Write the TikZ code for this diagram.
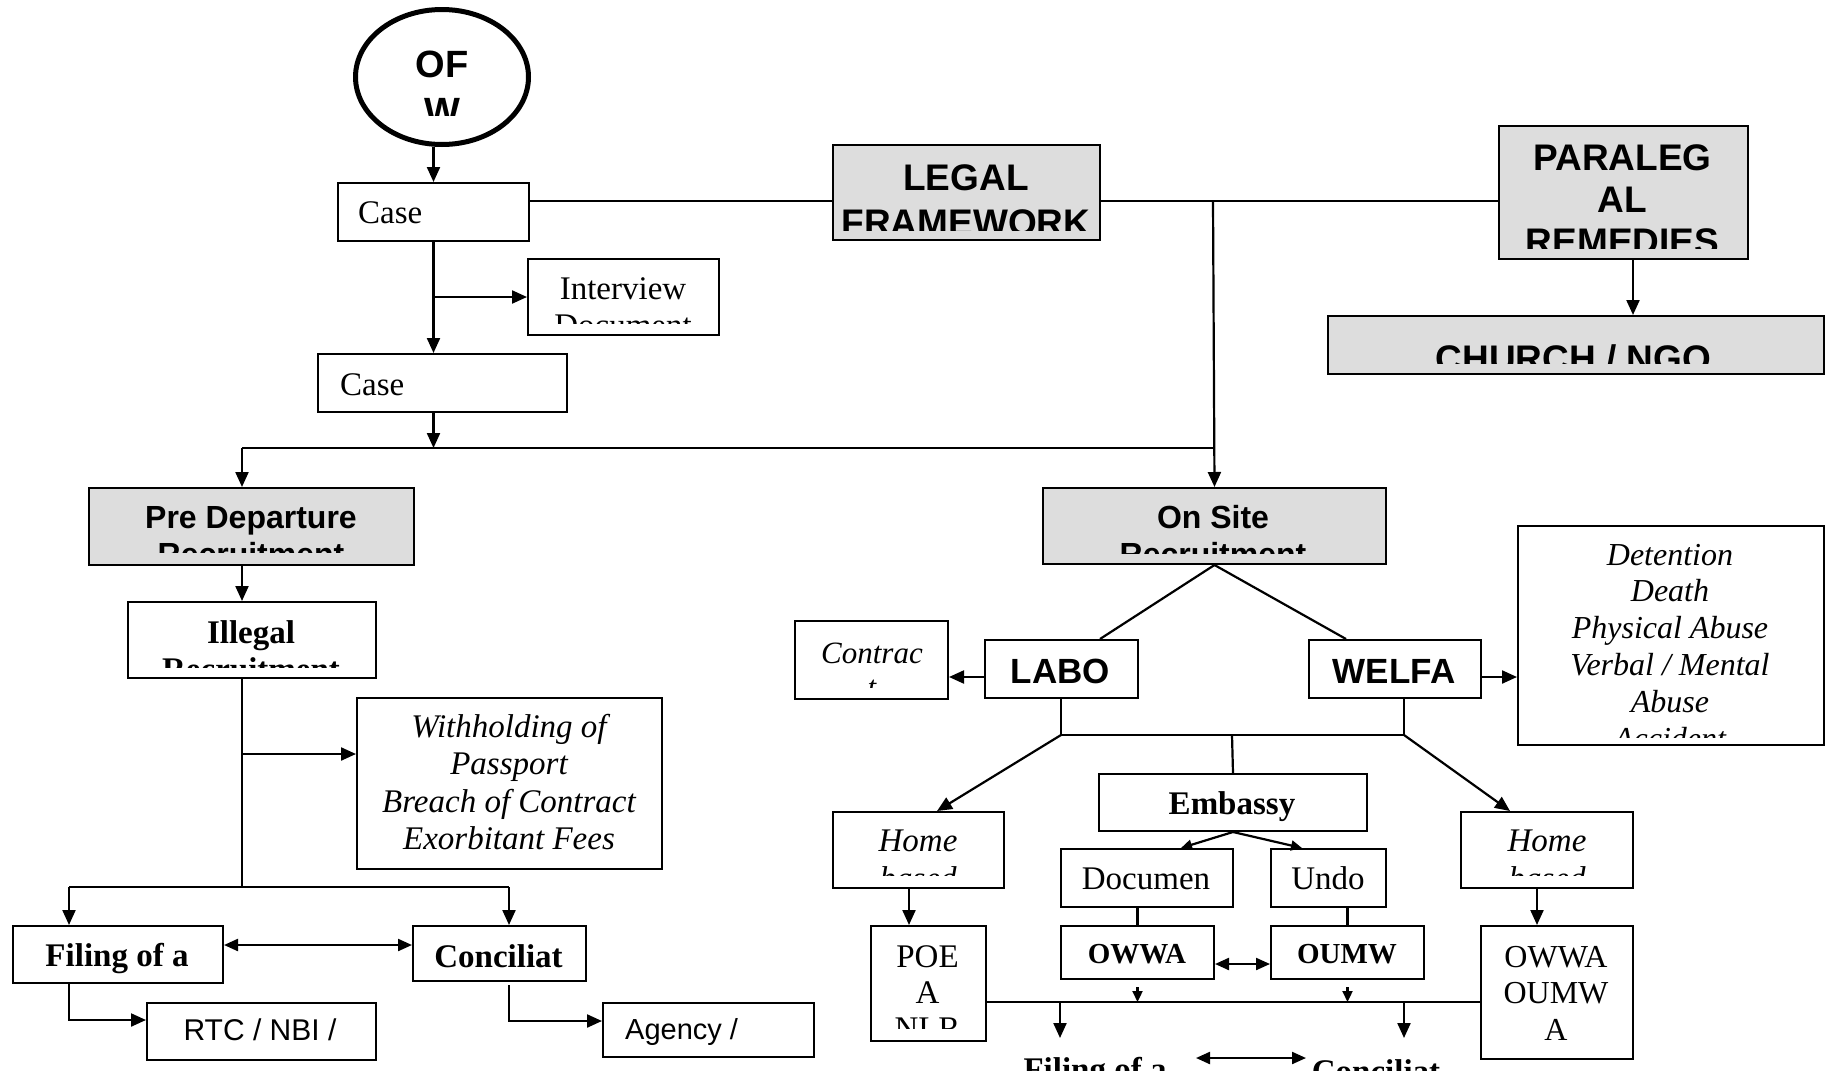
\documentclass[tikz,border=0pt]{standalone}
\usepackage{fontspec}
\setmainfont{Liberation Serif}
\newfontfamily\arialf{Liberation Sans}
\usetikzlibrary{shapes.geometric,arrows.meta}
\definecolor{boxgray}{RGB}{221,221,221}
\newcommand{\mkbox}[6]{%
  \pgfmathsetmacro{\mybw}{#4-#2}\pgfmathsetmacro{\mybh}{#5-#3}%
  \node[box,#6,minimum width=\mybw pt,minimum height=\mybh pt,anchor=north west] (#1) at (#2,#3) {};}
\newcommand{\tx}[6]{\begin{scope}\clip (#2) rectangle (#3); \node[#5] (#1) at (#4) {#6};\end{scope}}
\tikzset{
  box/.style={draw,line width=2pt,inner sep=0pt,fill=white},
  gbox/.style={fill=boxgray},
  txt/.style={inner sep=0pt,align=center,anchor=base},
  ltxt/.style={inner sep=0pt,anchor=base west},
  sr/.style={font=\fontsize{33}{37}\selectfont},
  sb/.style={font=\fontsize{33}{37}\selectfont\bfseries},
  si/.style={font=\fontsize{33}{37.5}\selectfont\itshape},
  ab/.style={font=\arialf\fontsize{37}{44}\selectfont\bfseries},
  line/.style={line width=2.2pt},
  arr/.style={line width=2.2pt,-{Triangle[length=15pt,width=13pt]}},
  sarr/.style={line width=2.2pt,-{Triangle[length=11pt,width=10pt]}},
  dbl/.style={line width=2.2pt,{Triangle[length=14pt,width=12pt]}-{Triangle[length=14pt,width=12pt]}}
}
\begin{document}
\begin{tikzpicture}[x=1pt,y=-1pt]
\useasboundingbox[fill=white] (0,0) rectangle (1829,1079);
% coordinates
\coordinate (lj) at (1213,201);
\coordinate (hl) at (242,448);
\coordinate (wb) at (242,754);
\coordinate (fl) at (69,887);
\coordinate (fr) at (509,887);
\coordinate (fa) at (300,945);
\coordinate (rb) at (69,1020);
\coordinate (ab) at (509,1021);
\coordinate (lc) at (985,677);
\coordinate (jl) at (1061,735);
\coordinate (jr) at (1404,735);
\coordinate (jm) at (1232,735);
\coordinate (oa) at (1240,964);
\coordinate (bl) at (985,1002);
\coordinate (d1) at (1060,1038);
\coordinate (d2) at (1404,1038);
\coordinate (hxl) at (909,0);
\coordinate (hxr) at (1537,0);
\coordinate (bd1) at (1196,1058);
\coordinate (bd2) at (1306,1058);
% shapes
\node[ellipse,draw,line width=5pt,minimum width=173pt,minimum height=135pt,inner sep=0pt] (ofw) at (442,77) {};
\mkbox{case1}{337}{182}{528}{240}{}
\mkbox{interview}{527}{258}{718}{334}{}
\mkbox{case2}{317}{353}{566}{411}{}
\mkbox{legal}{832}{144}{1099}{239}{gbox}
\mkbox{para}{1498}{125}{1747}{258}{gbox}
\mkbox{church}{1327}{315}{1823}{373}{gbox}
\mkbox{pre}{88}{487}{413}{564}{gbox}
\mkbox{onsite}{1042}{487}{1385}{563}{gbox}
\mkbox{illegal}{127}{601}{375}{677}{}
\mkbox{withh}{356}{697}{661}{868}{}
\mkbox{filing}{12}{925}{222}{982}{}
\mkbox{concil}{412}{925}{585}{980}{}
\mkbox{rtc}{146}{1002}{375}{1059}{}
\mkbox{agency}{602}{1002}{813}{1056}{}
\mkbox{contract}{794}{620}{947}{698}{}
\mkbox{labo}{984}{639}{1137}{697}{}
\mkbox{welfa}{1308}{639}{1480}{697}{}
\mkbox{detention}{1517}{525}{1823}{744}{}
\mkbox{homeL}{832}{811}{1003}{887}{}
\mkbox{embassy}{1098}{773}{1366}{830}{}
\mkbox{homeR}{1460}{811}{1632}{887}{}
\mkbox{documen}{1060}{848}{1232}{906}{}
\mkbox{undo}{1270}{848}{1385}{906}{}
\mkbox{owwa}{1060}{925}{1213}{978}{}
\mkbox{oumw}{1270}{925}{1423}{978}{}
\mkbox{poea}{870}{925}{985}{1040}{}
\mkbox{owwaR}{1480}{925}{1632}{1058}{}
% texts (anchor base = baseline of last line)
\tx{ofwt}{360,15}{525,115}{442,124}{txt,font=\arialf\fontsize{38}{47}\selectfont\bfseries}{OF\\W}
\node[ltxt,sr] (case1t) at (358,223) {Case};
\node[ltxt,sr] (case2t) at (340,395) {Case};
\tx{interviewt}{530,260}{716,323}{623,336}{txt,sr}{Interview\\Document}
\tx{legalt}{835,147}{1096,230}{966,235}{txt,font=\arialf\fontsize{37}{45}\selectfont\bfseries}{LEGAL\\FRAMEWORK}
\tx{parat}{1500,128}{1745,248}{1622.5,254}{txt,font=\arialf\fontsize{37}{42}\selectfont\bfseries}{PARALEG\\AL\\REMEDIES}
\tx{churcht}{1330,318}{1820,363}{1573.5,371.5}{txt,ab}{CHURCH / NGO}
\tx{pret}{91,490}{410,552}{251,565}{txt,font=\arialf\fontsize{32}{37}\selectfont\bfseries}{Pre Departure\\Recruitment}
\tx{onsitet}{1045,490}{1382,553}{1213,565}{txt,font=\arialf\fontsize{32}{37}\selectfont\bfseries}{On Site\\Recruitment}
\tx{illegalt}{130,604}{372,667}{251,680}{txt,sb}{Illegal\\Recruitment}
\node[txt,si] (withht) at (509,849.5) {Withholding of\\Passport\\Breach of Contract\\Exorbitant Fees};
\node[txt,sb] (filingt) at (117,966) {Filing of a};
\node[txt,sb] (concilt) at (498.5,967) {Conciliat};
\node[txt,font=\arialf\fontsize{30}{36}\selectfont] (rtct) at (260,1040) {RTC / NBI /};
\node[ltxt,font=\arialf\fontsize{29}{36}\selectfont] (agencyt) at (625,1039) {Agency /};
\tx{contractt}{797,623}{944,687}{872,697}{txt,font=\fontsize{31}{34}\selectfont\itshape}{Contrac\\t}
\node[txt,font=\arialf\fontsize{35}{40}\selectfont\bfseries] (labot) at (1060.5,683) {LABO};
\node[txt,font=\arialf\fontsize{35}{40}\selectfont\bfseries] (welfat) at (1394,683) {WELFA};
\tx{detentiont}{1520,528}{1820,737}{1670,749}{txt,font=\fontsize{32}{36.8}\selectfont\itshape}{Detention\\Death\\Physical Abuse\\Verbal / Mental\\Abuse\\Accident}
\tx{homeLt}{835,813}{1000,875}{918,889}{txt,si}{Home\\based}
\tx{homeRt}{1463,813}{1629,875}{1547,889}{txt,si}{Home\\based}
\node[txt,sb] (embassyt) at (1232,814) {Embassy};
\node[txt,sr] (document) at (1146,889) {Documen};
\node[txt,sr] (undot) at (1328,889) {Undo};
\node[txt,font=\fontsize{29}{34}\selectfont\bfseries] (owwat) at (1137,963) {OWWA};
\node[txt,font=\fontsize{29}{34}\selectfont\bfseries] (oumwt) at (1347,963) {OUMW};
\tx{poeat}{872,927}{983,1028}{927.5,1039}{txt,font=\fontsize{33}{36}\selectfont}{POE\\A\\NLR}
\node[txt,font=\fontsize{32}{36.5}\selectfont] (owwaRt) at (1556,1040) {OWWA\\OUMW\\A};
\tx{bfilingt}{1000,1040}{1190,1070}{1095,1080}{txt,sb}{Filing of a}
\tx{bconcilt}{1300,1040}{1470,1070}{1376,1082}{txt,sb}{Conciliat}
% connectors
\draw[arr] (case1.north |- ofw.south) -- (case1.north);
\draw[line] (case1.east |- lj) -- (legal.west |- lj);
\draw[line] (legal.east |- lj) -- (para.west |- lj);
\draw[arr] (lj) -- (onsite.north);
\draw[arr] (case1.south |- interview.west) -- (interview.west);
\draw[arr] (case1.south) -- (case1.south |- case2.north);
\draw[arr] (case1.south |- case2.south) -- (case1.south |- hl);
\draw[line] (hl) -- (hl -| lj);
\draw[arr] (hl) -- (hl |- pre.north);
\draw[arr] ([xshift=9.5pt]para.south) -- ([xshift=9.5pt]para.south |- church.north);
\draw[arr] (hl |- pre.south) -- (hl |- illegal.north);
\draw[line] (hl |- illegal.south) -- (hl |- fl);
\draw[arr] (wb) -- (wb -| withh.west);
\draw[line] (fl) -- (fr);
\draw[arr] (fl) -- (fl |- filing.north);
\draw[arr] (fr) -- (fr |- concil.north);
\draw[dbl] (filing.east |- fa) -- (concil.west |- fa);
\draw[arr] (fl |- filing.south) -- (rb) -- (rb -| rtc.west);
\draw[arr] ([yshift=-3pt]fr |- concil.south) -- (ab) -- (ab -| agency.west);
\draw[line] (onsite.south) -- ([xshift=38.5pt]labo.north);
\draw[line] (onsite.south) -- ([xshift=-49pt]welfa.north);
\draw[arr] (labo.west |- lc) -- (contract.east |- lc);
\draw[arr] (welfa.east |- lc) -- (detention.west |- lc);
\draw[line] (jl |- labo.south) -- (jl) -- (jr) -- (jr |- welfa.south);
\draw[line] (jm) -- (embassy.north);
\draw[arr] (jl) -- ([xshift=18.5pt]homeL.north);
\draw[arr] (jr) -- ([xshift=-37pt]homeR.north);
\draw[sarr] (embassy.south) -- ([xshift=34pt]documen.north);
\draw[sarr] (embassy.south) -- ([xshift=-26.5pt]undo.north);
\draw[line] (owwa.north |- documen.south) -- (owwa.north);
\draw[line] (oumw.north |- undo.south) -- (oumw.north);
\draw[dbl] (owwa.east |- oa) -- (oumw.west |- oa);
\draw[line] (poea.east |- bl) -- (owwaR.west |- bl);
\draw[sarr] ([yshift=-7pt]owwa.south) -- (owwa.south |- bl);
\draw[sarr] ([yshift=-7pt]oumw.south) -- (oumw.south |- bl);
\draw[arr] (d1 |- bl) -- (d1);
\draw[arr] (d2 |- bl) -- (d2);
\draw[arr] (homeL.south -| hxl) -- (hxl |- poea.north);
\draw[arr] (homeR.south -| hxr) -- (hxr |- owwaR.north);
\draw[dbl] (bd1) -- (bd2);
\end{tikzpicture}
\end{document}
